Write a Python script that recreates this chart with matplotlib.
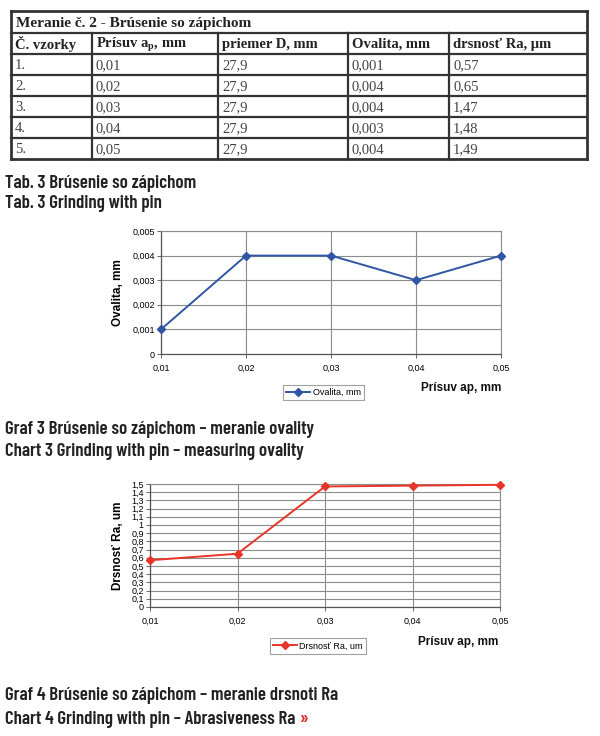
import numpy as np
import matplotlib
matplotlib.use("Agg")
import matplotlib.pyplot as plt
from matplotlib.ticker import FuncFormatter

# ---------------- data ----------------
table_title = "Meranie č. 2 - Brúsenie so zápichom"
col_headers = ["Č. vzorky", r"Prísuv a$_\mathregular{p}$, mm", "priemer D, mm", "Ovalita, mm", "drsnosť Ra, µm"]
samples = ["1.", "2.", "3.", "4.", "5."]
prisuv = ["0,01", "0,02", "0,03", "0,04", "0,05"]
priemer = ["27,9", "27,9", "27,9", "27,9", "27,9"]
ovalita = ["0,001", "0,004", "0,004", "0,003", "0,004"]
drsnost = ["0,57", "0,65", "1,47", "1,48", "1,49"]

ov_yticks = [0, 0.001, 0.002, 0.003, 0.004, 0.005]
ra_yticks = [round(v * 0.1, 1) for v in range(16)]

captions = [
    "Tab. 3 Brúsenie so zápichom",
    "Tab. 3 Grinding with pin",
    "Graf 3 Brúsenie so zápichom – meranie ovality",
    "Chart 3 Grinding with pin – measuring ovality",
    "Graf 4 Brúsenie so zápichom – meranie drsnoti Ra",
    "Chart 4 Grinding with pin – Abrasiveness Ra",
]

def num(s):
    return float(s.replace(",", "."))

x_vals = [num(s) for s in prisuv]
ov_vals = [num(s) for s in ovalita]
ra_vals = [num(s) for s in drsnost]

def comma_fmt(v, pos=None):
    return ("%g" % round(v, 4)).replace(".", ",")

W, H = 600, 736
fig = plt.figure(figsize=(W / 100, H / 100), dpi=100)
fig.patch.set_facecolor("white")

# overlay in pixel coordinates
ov = fig.add_axes([0, 0, 1, 1])
ov.set_xlim(0, W)
ov.set_ylim(H, 0)
ov.axis("off")

# ---------------- table ----------------
serif = ["Liberation Serif", "DejaVu Serif"]
col_x = [11, 92, 218, 348, 449, 587]
row_y = [11, 33, 54, 75, 96, 117, 138, 159]
lc = "#333333"
for i, y in enumerate(row_y):
    lw = 2.0 if i in (0, len(row_y) - 1) else 1.6
    ov.plot([col_x[0], col_x[-1]], [y, y], color=lc, lw=lw, solid_capstyle="projecting")
for x in (col_x[0], col_x[-1]):
    ov.plot([x, x], [row_y[0], row_y[-1]], color=lc, lw=2.0, solid_capstyle="projecting")
for x in col_x[1:-1]:
    ov.plot([x, x], [row_y[1], row_y[-1]], color=lc, lw=1.6)

fs_tab = 10.5
ov.text(col_x[0] + 5, (row_y[0] + row_y[1]) / 2 + 1, table_title, family=serif,
        fontweight="bold", fontsize=11, va="center", ha="left", color="#222222")
for j, h in enumerate(col_headers):
    ov.text(col_x[j] + 4, (row_y[1] + row_y[2]) / 2 + 1, h, family=serif,
            fontweight="bold", fontsize=fs_tab, va="center", ha="left", color="#222222")
rows = list(zip(samples, prisuv, priemer, ovalita, drsnost))
for i, r in enumerate(rows):
    yc = (row_y[i + 2] + row_y[i + 3]) / 2 + 1
    for j, v in enumerate(r):
        ov.text(col_x[j] + 4, yc, v, family=serif, fontsize=fs_tab,
                va="center", ha="left", color="#444444")

# ---------------- captions ----------------
cap_family = ["Barlow Condensed", "Saira Condensed", "DejaVu Sans"]
cap_font = dict(family=cap_family, fontweight=600,
                fontsize=12.5, color="#222222", va="center", ha="left")
cap_y = [183, 204, 430, 452, 696, 720]
cap_texts = []
for t, y in zip(captions, cap_y):
    cap_texts.append(ov.text(5, y, t, **cap_font))
arrow = ov.annotate("»", xy=(1, 0.5), xycoords=cap_texts[-1], xytext=(3, 0), textcoords="offset points",
                    va="center", ha="left", fontsize=12.5, fontweight=600,
                    family=cap_family, color="#d9302a")

# fit caption size so that "Graf 3 ..." caption spans ~309 px like in the reference
fig.canvas.draw()
renderer = fig.canvas.get_renderer()
w_now = cap_texts[2].get_window_extent(renderer).width
scale = 309.0 / w_now if w_now > 0 else 1.0
for t in cap_texts:
    t.set_fontsize(12.5 * scale)
arrow.set_fontsize(12.5 * scale)

# ---------------- charts ----------------
sans = ["Liberation Sans", "DejaVu Sans"]
grid_c = "#8c8c8c"

def style_axes(ax):
    ax.set_facecolor("white")
    ax.grid(True, color=grid_c, lw=0.8)
    ax.set_axisbelow(True)
    for s in ("top", "right"):
        ax.spines[s].set_color(grid_c)
        ax.spines[s].set_linewidth(0.8)
    for s in ("left", "bottom"):
        ax.spines[s].set_color("#555555")
        ax.spines[s].set_linewidth(0.9)
    ax.tick_params(labelsize=6.5, length=3, width=0.7, color="#666666", pad=1.5)
    ax.tick_params(axis="x", pad=4)
    for lab in ax.get_xticklabels() + ax.get_yticklabels():
        lab.set_family(sans)

def px_axes(l, r, t, b):
    return fig.add_axes([l / W, 1 - b / H, (r - l) / W, (b - t) / H])

# Chart 3: ovalita
ax1 = px_axes(161, 501, 231, 354)
l1, = ax1.plot(x_vals, ov_vals, color="#2f55a4", lw=1.4, marker="D", ms=4.5,
               clip_on=False, zorder=5, label="Ovalita, mm")
ax1.set_xlim(x_vals[0], x_vals[-1])
ax1.set_ylim(0, 0.005)
ax1.set_xticks(x_vals)
ax1.set_xticklabels(prisuv)
ax1.set_yticks(ov_yticks)
ax1.yaxis.set_major_formatter(FuncFormatter(comma_fmt))
style_axes(ax1)
ax1.set_ylabel("Ovalita, mm", family=sans, fontweight="bold", fontsize=8.5)
ax1.yaxis.set_label_coords(-0.127, 0.5)
ax1.yaxis.label.set_va("center")
ov.text(461, 388, "Prísuv ap, mm", family=sans, fontweight="bold", fontsize=8.5,
        ha="center", va="center", color="#111111")
leg1 = ax1.legend(handles=[l1], loc="center", bbox_to_anchor=(323.5 / W, 1 - 392.5 / H),
                  bbox_transform=fig.transFigure, prop=dict(family=sans, size=6.5),
                  frameon=True, fancybox=False, edgecolor="#888888", handlelength=2.6,
                  handletextpad=0.3, borderpad=0.35)
leg1.get_frame().set_linewidth(0.8)

# Chart 4: drsnost
ax2 = px_axes(150, 500, 484, 607)
l2, = ax2.plot(x_vals, ra_vals, color="#e8352a", lw=1.4, marker="D", ms=4.5,
               clip_on=False, zorder=5, label="Drsnosť Ra, um")
ax2.set_xlim(x_vals[0], x_vals[-1])
ax2.set_ylim(0, 1.5)
ax2.set_xticks(x_vals)
ax2.set_xticklabels(prisuv)
ax2.set_yticks(ra_yticks)
ax2.yaxis.set_major_formatter(FuncFormatter(comma_fmt))
style_axes(ax2)
ax2.set_ylabel("Drsnosť Ra, um", family=sans, fontweight="bold", fontsize=8.5)
ax2.yaxis.set_label_coords(-0.091, 0.5)
ax2.yaxis.label.set_va("center")
ov.text(458.5, 642, "Prísuv ap, mm", family=sans, fontweight="bold", fontsize=8.5,
        ha="center", va="center", color="#111111")
leg2 = ax2.legend(handles=[l2], loc="center", bbox_to_anchor=(318 / W, 1 - 646 / H),
                  bbox_transform=fig.transFigure, prop=dict(family=sans, size=6.5),
                  frameon=True, fancybox=False, edgecolor="#888888", handlelength=2.6,
                  handletextpad=0.3, borderpad=0.35)
leg2.get_frame().set_linewidth(0.8)

fig.savefig("out.png", dpi=100, facecolor="white")
